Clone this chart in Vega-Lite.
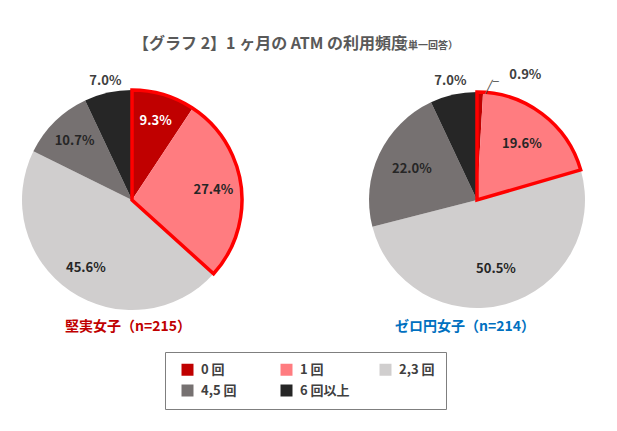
{
  "$schema": "https://vega.github.io/schema/vega-lite/v6.json",
  "padding": {"left": 0, "top": 36, "right": 0, "bottom": 0},
  "background": "white",
  "title": {
    "text": "【グラフ 2】1 ヶ月の ATM の利用頻度",
    "subtitle": "\u200b　　　　　　　　　　　　　　　　　　　　　　　　　　　（単一回答）",
    "anchor": "start",
    "frame": "group",
    "dx": 133,
    "offset": 17,
    "font": "Noto Sans CJK JP",
    "fontSize": 16,
    "fontWeight": "bold",
    "color": "#595959",
    "subtitleFont": "Noto Sans CJK JP",
    "subtitleFontSize": 10,
    "subtitleFontWeight": "bold",
    "subtitleColor": "#595959",
    "subtitlePadding": -11
  },
  "data": {
    "values": [
      {"g": "堅実", "c": "0 回", "v": 9.3},
      {"g": "堅実", "c": "1 回", "v": 27.4},
      {"g": "堅実", "c": "2,3 回", "v": 45.6},
      {"g": "堅実", "c": "4,5 回", "v": 10.7},
      {"g": "堅実", "c": "6 回以上", "v": 7.0},
      {"g": "ゼロ円", "c": "0 回", "v": 0.9},
      {"g": "ゼロ円", "c": "1 回", "v": 19.6},
      {"g": "ゼロ円", "c": "2,3 回", "v": 50.5},
      {"g": "ゼロ円", "c": "4,5 回", "v": 22.0},
      {"g": "ゼロ円", "c": "6 回以上", "v": 7.0}
    ]
  },
  "transform": [
    {"calculate": "format(datum.v, '.1f') + '%'", "as": "lbl"},
    {"stack": "v", "groupby": ["g"], "sort": [{"field": "c", "order": "ascending"}], "as": ["v0", "v1"]},
    {"calculate": "(datum.v0 + datum.v1) / 2", "as": "mid"}
  ],
  "spacing": 81,
  "hconcat": [
    {
      "width": 264,
      "height": 224,
      "title": {"text": "堅実女子（n=215）", "orient": "bottom", "color": "#c00000", "fontSize": 14, "font": "Noto Sans CJK JP", "fontWeight": "bold", "offset": 8, "dx": -4},
      "transform": [{"filter": "datum.g == '堅実'"}],
      "layer": [
        {
          "mark": {"type": "arc", "outerRadius": 110},
          "encoding": {
            "theta": {"field": "v0", "type": "quantitative", "scale": {"domain": [0, 100]}},
            "theta2": {"field": "v1"},
            "color": {"field": "c", "type": "nominal", "scale": {"domain": ["0 回", "1 回", "2,3 回", "4,5 回", "6 回以上"], "range": ["#c00000", "#ff7c80", "#d0cece", "#767171", "#262626"]}}
          }
        },
        {
          "transform": [
            {"filter": "datum.c == '0 回' || datum.c == '1 回'"},
            {"aggregate": [{"op": "min", "field": "v0", "as": "a0"}, {"op": "max", "field": "v1", "as": "a1"}]}
          ],
          "mark": {"type": "arc", "outerRadius": 110, "fill": "transparent", "stroke": "#ff0000", "strokeWidth": 3.5, "strokeJoin": "miter"},
          "encoding": {
            "theta": {"field": "a0", "type": "quantitative", "scale": {"domain": [0, 100]}},
            "theta2": {"field": "a1"}
          }
        },
        {
          "transform": [{"filter": "datum.c != '6 回以上'"}],
          "mark": {"type": "text", "radius": 82, "font": "Noto Sans CJK JP", "fontWeight": "bold", "fontSize": 13},
          "encoding": {
            "theta": {"field": "mid", "type": "quantitative", "scale": {"domain": [0, 100]}},
            "text": {"field": "lbl"},
            "color": {"condition": {"test": "datum.c == '0 回'", "value": "white"}, "value": "#262626"}
          }
        },
        {
          "transform": [{"filter": "datum.c == '6 回以上'"}],
          "mark": {"type": "text", "radius": 122, "font": "Noto Sans CJK JP", "fontWeight": "bold", "fontSize": 13, "color": "#404040"},
          "encoding": {
            "theta": {"field": "mid", "type": "quantitative", "scale": {"domain": [0, 100]}},
            "text": {"field": "lbl"}
          }
        }
      ]
    },
    {
      "width": 264,
      "height": 224,
      "title": {"text": "ゼロ円女子（n=214）", "orient": "bottom", "color": "#0070c0", "fontSize": 14, "font": "Noto Sans CJK JP", "fontWeight": "bold", "offset": 8, "dx": -12},
      "transform": [{"filter": "datum.g == 'ゼロ円'"}],
      "layer": [
        {
          "mark": {"type": "arc", "outerRadius": 108},
          "encoding": {
            "theta": {"field": "v0", "type": "quantitative", "scale": {"domain": [0, 100]}},
            "theta2": {"field": "v1"},
            "color": {"field": "c", "type": "nominal", "scale": {"domain": ["0 回", "1 回", "2,3 回", "4,5 回", "6 回以上"], "range": ["#c00000", "#ff7c80", "#d0cece", "#767171", "#262626"]}}
          }
        },
        {
          "transform": [
            {"filter": "datum.c == '0 回' || datum.c == '1 回'"},
            {"aggregate": [{"op": "min", "field": "v0", "as": "a0"}, {"op": "max", "field": "v1", "as": "a1"}]}
          ],
          "mark": {"type": "arc", "outerRadius": 108, "fill": "transparent", "stroke": "#ff0000", "strokeWidth": 3.5, "strokeJoin": "miter"},
          "encoding": {
            "theta": {"field": "a0", "type": "quantitative", "scale": {"domain": [0, 100]}},
            "theta2": {"field": "a1"}
          }
        },
        {
          "transform": [{"filter": "datum.c != '6 回以上' && datum.c != '0 回'"}],
          "mark": {"type": "text", "radius": 72, "font": "Noto Sans CJK JP", "fontWeight": "bold", "fontSize": 13, "color": "#262626"},
          "encoding": {
            "theta": {"field": "mid", "type": "quantitative", "scale": {"domain": [0, 100]}},
            "text": {"field": "lbl"}
          }
        },
        {
          "transform": [{"filter": "datum.c == '6 回以上'"}],
          "mark": {"type": "text", "radius": 122, "font": "Noto Sans CJK JP", "fontWeight": "bold", "fontSize": 13, "color": "#404040"},
          "encoding": {
            "theta": {"field": "mid", "type": "quantitative", "scale": {"domain": [0, 100]}},
            "text": {"field": "lbl"}
          }
        },
        {
          "transform": [{"filter": "datum.c == '0 回'"}],
          "mark": {"type": "text", "radius": 118, "dx": 45, "dy": -7, "font": "Noto Sans CJK JP", "fontWeight": "bold", "fontSize": 13, "color": "#404040"},
          "encoding": {
            "theta": {"field": "mid", "type": "quantitative", "scale": {"domain": [0, 100]}},
            "text": {"field": "lbl"}
          }
        },
        {
          "transform": [{"filter": "datum.c == '0 回'"}],
          "mark": {"type": "text", "radius": 110, "dx": 12, "dy": -3, "font": "DejaVu Sans", "fontSize": 12, "color": "#595959"},
          "encoding": {
            "theta": {"field": "mid", "type": "quantitative", "scale": {"domain": [0, 100]}},
            "text": {"value": "╱‾"}
          }
        }
      ]
    }
  ],
  "config": {
    "view": {"stroke": null},
    "legend": {
      "orient": "none",
      "legendX": 165,
      "legendY": 264,
      "direction": "horizontal",
      "columns": 3,
      "title": null,
      "strokeColor": "#7f7f7f",
      "padding": 11,
      "symbolType": "square",
      "symbolSize": 144,
      "symbolStrokeWidth": 0,
      "symbolOffset": 5,
      "labelOffset": 7,
      "labelFont": "Noto Sans CJK JP",
      "labelFontSize": 13,
      "labelFontWeight": "bold",
      "labelColor": "#404040",
      "gridAlign": "all",
      "columnPadding": 24,
      "rowPadding": 7
    }
  }
}
